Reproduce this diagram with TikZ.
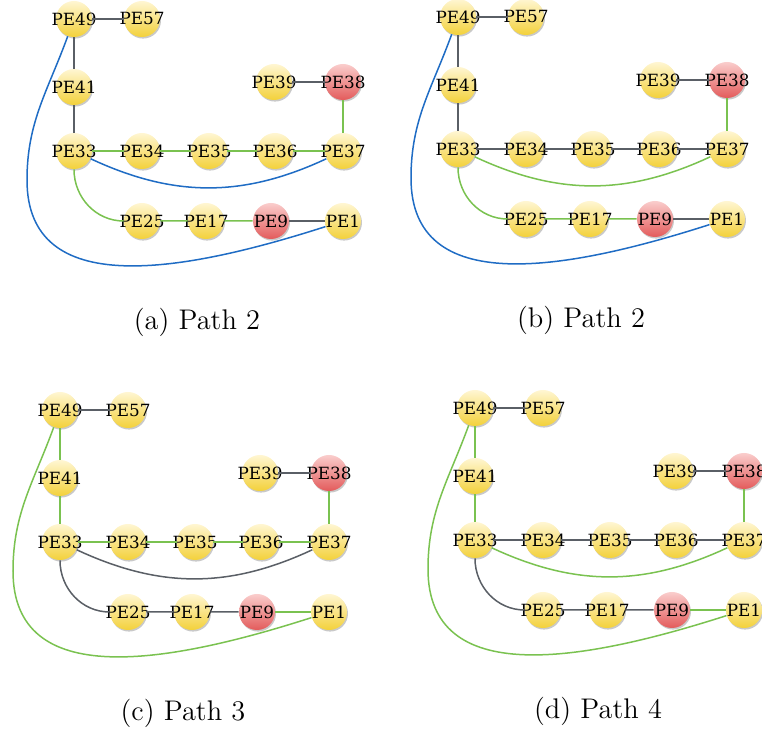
\documentclass[tikz,border=0pt]{standalone}
\usepackage{fontspec}
\newfontfamily\pefont{DejaVu Serif}
\usetikzlibrary{shadows}
\definecolor{edgegray}{HTML}{5A5F66}
\definecolor{edgegreen}{HTML}{7AC250}
\definecolor{edgeblue}{HTML}{1F6CC4}
\definecolor{yeltop}{HTML}{FFF6D2}
\definecolor{yelbot}{HTML}{F3D13A}
\definecolor{redtop}{HTML}{FACDCC}
\definecolor{redbot}{HTML}{E35B5B}
\tikzset{
  penode/.style={circle, minimum size=18pt, inner sep=0pt, top color=yeltop, bottom color=yelbot,
    font=\pefont\fontsize{8.4}{9}\selectfont,
    drop shadow={shadow xshift=0.5pt, shadow yshift=-0.8pt, opacity=0.3, fill=black!70}},
  pered/.style={penode, top color=redtop, bottom color=redbot},
  link/.style={line width=0.75pt, #1},
  caption/.style={font=\fontsize{14.2}{17}\selectfont}
}
\begin{document}
\begin{tikzpicture}[x=0.5pt, y=0.5pt]
\useasboundingbox (0,0) rectangle (762,-732);
% panels: name/origin/colours of the edge groups/path number
\foreach \p/\ox/\oy/\A/\B/\C/\D/\E/\F/\k in {
  a/74/19/edgegray/edgegreen/edgeblue/edgegreen/edgegray/edgeblue/2,
  b/458/17/edgegray/edgegray/edgegreen/edgegreen/edgegray/edgeblue/2,
  c/60/410/edgegreen/edgegreen/edgegray/edgegray/edgegreen/edgegreen/3,
  d/475/408/edgegreen/edgegray/edgegreen/edgegray/edgegreen/edgegreen/4}
{
\begin{scope}[shift={(\ox,-\oy)}]
  % the label may stick out of the circle, the circle keeps its size
  \foreach \n/\x/\y/\s in {49/0/0/penode, 57/68/0/penode, 41/0/68/penode,
      39/200/63/penode, 38/269/63/pered,
      33/0/132/penode, 34/68/132/penode, 35/135/132/penode, 36/201/132/penode, 37/269/132/penode,
      25/68/202/penode, 17/132/202/penode, 9/197/202/pered, 1/269/202/penode}
  {
    \node[\s] (\p\n) at (\x,-\y) {\makebox[0pt]{PE\n}};
  }
  \coordinate (\p-turn) at (-47,-161);

  \draw[link=edgegray] (\p49) -- (\p57);
  \draw[link=\A] (\p49) -- (\p41) -- (\p33);
  \draw[link=\B] (\p33) -- (\p34) -- (\p35) -- (\p36) -- (\p37);
  \draw[link=edgegreen] (\p37) -- (\p38);
  \draw[link=edgegray] (\p38) -- (\p39);
  \draw[link=\C] (\p33) to[out=-25, in=-155] (\p37);
  \draw[link=\D] (\p33) to[out=-90, in=180] (\p25) -- (\p17) -- (\p9);
  \draw[link=\E] (\p9) -- (\p1);
  \draw[link=\F] (\p49) to[out=-110, in=90] (\p-turn)
    .. controls +(0,-120) and +(-162,-52) .. (\p1);

  \node[caption] (\p-cap) at (123,-303) {(\p) Path \k};
\end{scope}
}
\end{tikzpicture}
\end{document}
